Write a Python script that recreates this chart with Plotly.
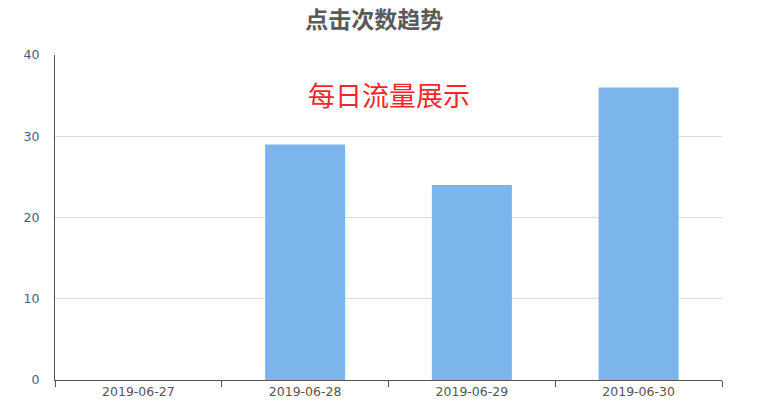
import plotly.graph_objects as go

dates = ['2019-06-27', '2019-06-28', '2019-06-29', '2019-06-30']
clicks = [0, 29, 24, 36]
y_ticks = [0, 10, 20, 30, 40]

fig = go.Figure(go.Bar(x=dates, y=clicks, marker_color='#7cb5ec',
                       marker_line_width=0, hoverinfo='x+y'))

# page shows an 8px body margin, so the figure is shifted by that amount
fig.update_layout(
    width=766, height=410,
    margin=dict(l=47, r=52, t=47, b=38),
    paper_bgcolor='white', plot_bgcolor='white',
    bargap=0.52,
    showlegend=False,
    font=dict(family='DejaVu Sans, sans-serif', color='#666666', size=12),
    title=dict(text='<b>点击次数趋势</b>', x=0.478, xanchor='center', y=0.97, yanchor='middle',
               font=dict(family='Noto Sans CJK SC', size=23, color='#5a5a5a')),
    annotations=[dict(text='每日流量展示', xref='paper', yref='paper', x=0.501, y=0.88,
                      xanchor='center', yanchor='middle', showarrow=False,
                      font=dict(family='Noto Sans CJK SC', size=27, color='#f0282d'))],
)
fig.update_xaxes(type='category', showline=True, linecolor='#555555', linewidth=1.2,
                 ticks='outside', tickson='boundaries', ticklen=6, tickcolor='#555555',
                 showgrid=False, tickfont=dict(size=12.5, color='#555555'))
fig.update_yaxes(range=[0, 40], tickvals=y_ticks, showline=True, linecolor='#555555', linewidth=1.2,
                 gridcolor='#dddddd', zeroline=False, ticks='', ticklabelstandoff=12,
                 tickfont=dict(size=12.5, color='#4a5a80'))

fig.write_html("out.html")
